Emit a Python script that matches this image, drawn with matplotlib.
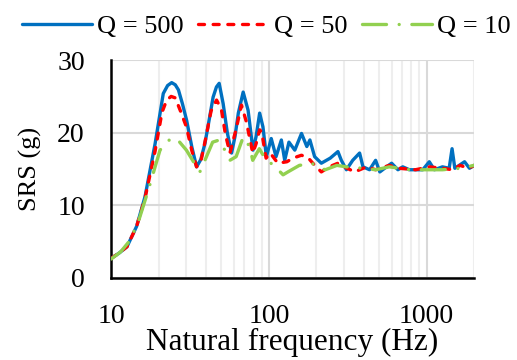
import numpy as np
import matplotlib.pyplot as plt
from matplotlib.ticker import FixedLocator, NullFormatter

plt.rcParams['font.family'] = 'Liberation Serif'

# Q = 500
f_500 = [10, 11.2, 12.6, 14.5, 16.4, 19.0, 21.4, 22.8, 24.2, 25.5, 26.7, 28.3, 30.1, 32.5,
         34.8, 37, 39.3, 42, 44.3, 46.5, 48.4, 51.3, 54.5, 58.0, 61, 64.0, 68.7, 73.8, 79.3,
         83, 87.4, 91.7, 96.4, 103.5, 111, 120, 126, 134, 146, 161, 174, 182, 195, 215, 245,
         274, 288, 310, 340, 376, 395, 435, 475, 505, 557, 600, 658, 706, 778, 945, 1040,
         1120, 1260, 1390, 1450, 1510, 1740, 1870, 2000]
srs_500 = [2.7, 3.4, 4.3, 7.1, 11.2, 18.5, 25.4, 26.5, 26.9, 26.6, 25.9, 24.0, 21.7, 18.0,
           15.3, 16.3, 18.5, 22.0, 24.9, 26.3, 26.8, 24.0, 20.0, 17.2, 19.5, 22.7, 25.6, 23.1,
           17.6, 19.5, 22.7, 20.8, 16.7, 19.2, 16.7, 19.0, 16.2, 18.7, 17.6, 19.9, 18.1, 19.0,
           16.7, 15.8, 16.5, 17.4, 16.2, 14.9, 16.2, 17.2, 15.3, 14.9, 16.2, 14.6, 15.3, 15.8,
           14.9, 15.3, 14.9, 14.9, 16.0, 14.9, 15.3, 15.1, 17.8, 15.1, 16.0, 15.1, 15.5]

# Q = 50
f_50 = [10, 11.2, 12.6, 14.5, 16.4, 19.0, 21.0, 22.5, 24.0, 25.5, 27.5, 30, 32.5, 34.8, 37,
        40, 43, 46.6, 50, 53, 56.6, 62, 67, 72, 79, 83, 87.4, 90, 96, 102, 114, 130, 142,
        161, 178, 190, 215, 241, 274, 300, 350, 416, 475, 580, 670, 850, 1040, 1260, 1460,
        1630, 1850, 2000]
srs_50 = [2.7, 3.4, 4.3, 7.1, 11.0, 17.5, 22.8, 24.5, 25.0, 24.8, 23.0, 20.8, 17.5, 15.3,
          16.0, 19.5, 23.0, 24.5, 23.2, 19.8, 17.2, 20.5, 23.8, 21.5, 17.2, 18.5, 20.4, 20.1,
          16.5, 17.2, 15.8, 16.0, 16.5, 16.9, 16.5, 15.8, 14.6, 15.3, 15.8, 15.3, 14.6, 15.3,
          14.9, 15.5, 15.1, 14.9, 15.3, 15.1, 14.9, 15.5, 15.1, 15.5]

# Q = 10
f_10 = [10, 11.5, 13.2, 15.0, 17.2, 20.4, 23.6, 26, 30, 34.8, 36.5, 39.3, 44, 48.5, 52,
        56.6, 62, 68.7, 75.5, 79, 87, 96, 103, 112, 123, 132, 156, 188, 200, 228, 270, 310,
        395, 475, 580, 780, 995, 1260, 1630, 2000]
srs_10 = [2.6, 3.6, 5.2, 8.0, 12.1, 17.6, 19.1, 19.2, 17.6, 15.3, 14.6, 16.2, 18.7, 19.0,
          17.8, 16.2, 16.7, 19.4, 18.1, 16.2, 17.8, 16.2, 15.8, 15.1, 14.2, 14.6, 15.5, 15.8,
          15.3, 14.9, 15.5, 15.3, 15.1, 14.9, 15.3, 14.9, 14.9, 14.9, 15.1, 15.5]

fig = plt.figure(figsize=(5.17, 3.6), dpi=100)
ax = fig.add_axes([0.215, 0.228, 0.702, 0.605])

style = dict(lw=2.4, solid_capstyle='round', dash_capstyle='round', solid_joinstyle='round')
ax.plot(f_500, srs_500, color='#0070C0', label='Q = 500', zorder=3, **style)
ax.plot(f_50, srs_50, color='#FF0000', dashes=(1.8, 2.6), label='Q = 50', zorder=4, **style)
ax.plot(f_10, srs_10, color='#92D050', dashes=(7.2, 3.8, 0.01, 3.8), label='Q = 10', zorder=5,
        **style)

ax.set_xscale('log')
ax.set_xlim(10, 2000)
ax.set_ylim(0, 30)
ax.set_yticks([0, 10, 20, 30])
ax.xaxis.set_major_locator(FixedLocator([10, 100, 1000]))
ax.xaxis.set_minor_locator(FixedLocator([20, 30, 40, 50, 60, 70, 80, 90, 200, 300, 400,
                                         500, 600, 700, 800, 900, 2000]))
ax.xaxis.set_minor_formatter(NullFormatter())
ax.set_xticklabels(['10', '100', '1000'])

ax.grid(True, which='major', color='#d9d9d9', lw=1.5)
ax.grid(True, which='minor', axis='x', color='#eeeeee', lw=1.5)
ax.set_axisbelow(True)

for s in ['top', 'right']:
    ax.spines[s].set_visible(False)
for s in ['left', 'bottom']:
    ax.spines[s].set_linewidth(1.8)
    ax.spines[s].set_color('black')

ax.tick_params(which='both', length=0, labelsize=20, pad=19)
ax.set_xlabel('Natural frequency (Hz)', fontsize=22.5, labelpad=-1)
ax.set_ylabel('SRS (g)', fontsize=19, labelpad=11)

fig.legend(loc='upper center', bbox_to_anchor=(0.515, 1.025), ncol=3, frameon=False,
           fontsize=19, handlelength=2.65, columnspacing=0.55, handletextpad=0.2)

fig.savefig('out.png', dpi=100)
